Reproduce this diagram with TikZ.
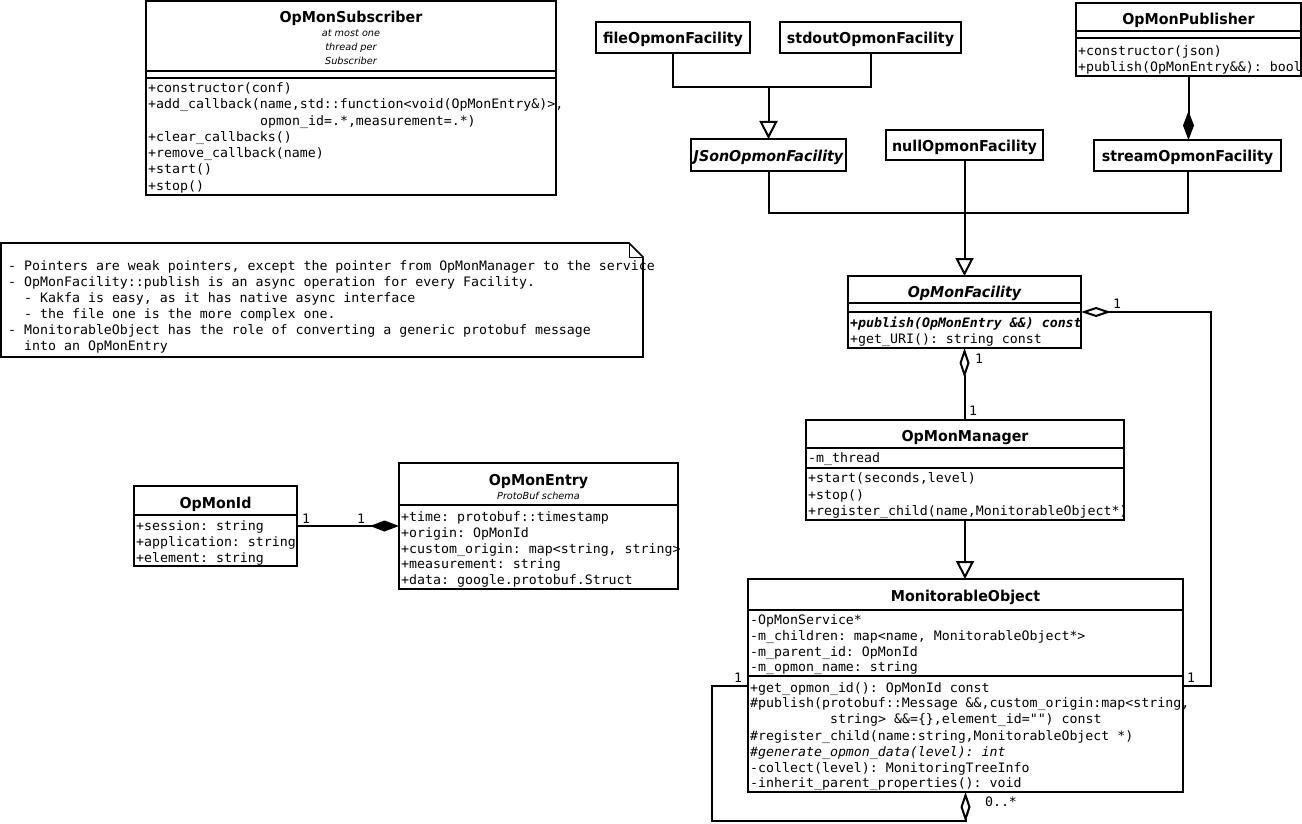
\documentclass[tikz,border=0pt]{standalone}
\usepackage{fontspec}
\setmonofont{DejaVu Sans Mono}[FakeStretch=1.02]
\newfontfamily\ttlfont{DejaVu Sans}[FakeStretch=0.95]
\newfontfamily\subfont{DejaVu Sans}
\usetikzlibrary{arrows.meta}
\tikzset{
 ln/.style={line width=2pt},
 box/.style={draw, line width=2pt, inner sep=0pt, outer sep=0pt, anchor=north west, fill=white},
 ttl/.style={font=\ttlfont\bfseries\fontsize{15}{18}\selectfont, inner sep=0pt, anchor=base},
 ttli/.style={font=\ttlfont\bfseries\itshape\fontsize{15}{18}\selectfont, inner sep=0pt, anchor=base},
 stl/.style={font=\subfont\itshape\fontsize{9.7}{11}\selectfont, inner sep=0pt, anchor=base},
 mem/.style={font=\ttfamily\fontsize{13}{16}\selectfont, anchor=base west, inner sep=0pt},
 lbl/.style={font=\ttfamily\fontsize{13}{16}\selectfont, inner sep=0pt},
 genarrow/.style={-{Triangle[length=18pt,width=18pt,fill=white]}},
 aggstart/.style={{Diamond[length=30pt,width=10pt,fill=white]}-},
 aggend/.style={-{Diamond[length=30pt,width=10pt,fill=white]}},
 compend/.style={-{Diamond[length=29pt,width=11pt,fill=black]}},
}
\begin{document}
\begin{tikzpicture}[x=1pt,y=-1pt]
\useasboundingbox[fill=white] (0,0) rectangle (1302,824);

% ---------- boxes ----------
\node[box, minimum width=410pt, minimum height=194pt] (sub) at (146,1) {};
\node[box, minimum width=225pt, minimum height=73pt] (pub) at (1076,3) {};
\node[box, minimum width=154pt, minimum height=31pt] (file) at (596,22) {};
\node[box, minimum width=181pt, minimum height=31pt] (stdout) at (780,22) {};
\node[box, minimum width=155pt, minimum height=32pt] (json) at (691,139) {};
\node[box, minimum width=157pt, minimum height=30pt] (null) at (886,130) {};
\node[box, minimum width=187pt, minimum height=31pt] (stream) at (1094,140) {};
\node[box, minimum width=233pt, minimum height=72pt] (fac) at (848,276) {};
\node[box, minimum width=318pt, minimum height=100pt] (mgr) at (806,420) {};
\node[box, minimum width=435pt, minimum height=213pt] (mo) at (748,579) {};
\node[box, minimum width=163pt, minimum height=80pt] (oid) at (134,486) {};
\node[box, minimum width=279pt, minimum height=126pt] (ent) at (399,463) {};
\node[anchor=north west, minimum width=642pt, minimum height=114pt, inner sep=0pt, outer sep=0pt] (note) at (1,243) {};

% note outline
\draw[line width=1.6pt] (note.north west) -- ([xshift=-14pt]note.north east) -- ([yshift=-14pt]note.north east) -- (note.south east) -- (note.south west) -- cycle;
\draw[line width=1pt] ([xshift=-14pt]note.north east) -- ([xshift=-14pt,yshift=-14pt]note.north east) -- ([yshift=-14pt]note.north east);

% ---------- compartment lines ----------
\draw[ln] (sub.west |- 0,71) -- (sub.east |- 0,71);
\draw[ln] (sub.west |- 0,78) -- (sub.east |- 0,78);
\draw[ln] (pub.west |- 0,31) -- (pub.east |- 0,31);
\draw[ln] (pub.west |- 0,38) -- (pub.east |- 0,38);
\draw[ln] (fac.west |- 0,303) -- (fac.east |- 0,303);
\draw[ln] (fac.west |- 0,312) -- (fac.east |- 0,312);
\draw[ln] (mgr.west |- 0,448) -- (mgr.east |- 0,448);
\draw[ln] (mgr.west |- 0,468) -- (mgr.east |- 0,468);
\draw[ln] (mo.west |- 0,610) -- (mo.east |- 0,610);
\draw[ln] (mo.west |- 0,676) -- (mo.east |- 0,676);
\draw[ln] (oid.west |- 0,515) -- (oid.east |- 0,515);
\draw[ln] (ent.west |- 0,505) -- (ent.east |- 0,505);

% ---------- connectors ----------
\coordinate (jbus) at (768.5,87);
\draw[ln] (file.south) |- (jbus) -| (stdout.south);
\draw[ln, genarrow] (jbus) -- (json.north);

\coordinate (fbus) at (964.5,213);
\draw[ln] (json.south) |- (fbus) -| (stream.south);
\draw[ln, genarrow] (null.south) -- (fac.north);

\draw[ln, compend] (pub.south) -- (pub.south |- stream.north);

\draw[ln, aggstart] (fac.south) -- (fac.south |- mgr.north);
\draw[ln, genarrow] (mgr.south) -- (mgr.south |- mo.north);

\coordinate (rt) at (1211,312);
\coordinate (rb) at (1211,686);
\draw[ln, aggstart] (fac.east |- rt) -- (rt) -- (rb) -- (mo.east |- rb);

\coordinate (lt) at (712,686);
\coordinate (lb) at (712,821);
\draw[ln, aggend] (mo.west |- lt) -- (lt) -- (lb) -| (mo.south);

\draw[ln, compend] (oid.east |- ent.west) -- (ent.west);

% ---------- multiplicities ----------
\node[lbl] (m1) at (306,519) {1};
\node[lbl] (m2) at (361,519) {1};
\node[lbl] (m3) at (1117,304) {1};
\node[lbl] (m4) at (979,359) {1};
\node[lbl] (m5) at (973,411) {1};
\node[lbl] (m6) at (1191,678) {1};
\node[lbl] (m7) at (738,678) {1};
\node[lbl] (m8) at (1001,802) {0..*};

% ---------- OpMonSubscriber ----------
\node[ttl] (subT) at (351,22.5) {OpMonSubscriber};
\node[stl] (subS1) at (351,36.5) {at most one};
\node[stl] (subS2) at (351,50.5) {thread per};
\node[stl] (subS3) at (351,64.5) {Subscriber};
\node[mem] (s1) at (148,93) {+constructor(conf)};
\node[mem] (s2) at (148,109) {+add\_callback(name,std::function<void(OpMonEntry\&)>,};
\node[mem] (s3) at (260,126) {opmon\_id=.*,measurement=.*)};
\node[mem] (s4) at (148,142) {+clear\_callbacks()};
\node[mem] (s5) at (148,158) {+remove\_callback(name)};
\node[mem] (s6) at (148,174) {+start()};
\node[mem] (s7) at (148,190) {+stop()};

% ---------- OpMonPublisher ----------
\node[ttl] (pubT) at (1188.5,24.5) {OpMonPublisher};
\node[mem] (p1) at (1078,56) {+constructor(json)};
\node[mem] (p2) at (1078,72) {+publish(OpMonEntry\&\&): bool};

% ---------- facilities ----------
\node[ttl] (fileT) at (673,43.5) {fileOpmonFacility};
\node[ttl] (stdoutT) at (870.5,43.5) {stdoutOpmonFacility};
\node[ttli] (jsonT) at (768.5,161.5) {JSonOpmonFacility};
\node[ttl] (nullT) at (964.5,151.5) {nullOpmonFacility};
\node[ttl] (streamT) at (1187.5,161.5) {streamOpmonFacility};

% ---------- OpMonFacility ----------
\node[ttli] (facT) at (964.5,297.5) {OpMonFacility};
\node[mem, font=\ttfamily\bfseries\itshape\fontsize{13}{16}\selectfont] (f1) at (850,327) {+publish(OpMonEntry \&\&) const};
\node[mem] (f2) at (850,343) {+get\_URI(): string const};

% ---------- OpMonManager ----------
\node[ttl] (mgrT) at (965,441.5) {OpMonManager};
\node[mem] (g1) at (808,462) {-m\_thread};
\node[mem] (g2) at (808,482) {+start(seconds,level)};
\node[mem] (g3) at (808,499) {+stop()};
\node[mem] (g4) at (808,515) {+register\_child(name,MonitorableObject*)};

% ---------- MonitorableObject ----------
\node[ttl] (moT) at (965.5,601) {MonitorableObject};
\node[mem] (o1) at (750,624) {-OpMonService*};
\node[mem] (o2) at (750,640) {-m\_children: map<name, MonitorableObject*>};
\node[mem] (o3) at (750,656) {-m\_parent\_id: OpMonId};
\node[mem] (o4) at (750,671) {-m\_opmon\_name: string};
\node[mem] (o5) at (750,692) {+get\_opmon\_id(): OpMonId const};
\node[mem] (o6) at (750,707) {\#publish(protobuf::Message \&\&,custom\_origin:map<string,};
\node[mem] (o7) at (830,723) {string> \&\&=\{\},element\_id="") const};
\node[mem] (o8) at (750,740) {\#register\_child(name:string,MonitorableObject *)};
\node[mem, font=\ttfamily\itshape\fontsize{13}{16}\selectfont] (o9) at (750,756) {\#generate\_opmon\_data(level): int};
\node[mem] (o10) at (750,772) {-collect(level): MonitoringTreeInfo};
\node[mem] (o11) at (750,787) {-inherit\_parent\_properties(): void};

% ---------- OpMonId ----------
\node[ttl] (oidT) at (215.5,508.5) {OpMonId};
\node[mem] (i1) at (136,530) {+session: string};
\node[mem] (i2) at (136,546) {+application: string};
\node[mem] (i3) at (136,562) {+element: string};

% ---------- OpMonEntry ----------
\node[ttl] (entT) at (538.5,485.5) {OpMonEntry};
\node[stl] (entS) at (538.5,499.5) {ProtoBuf schema};
\node[mem] (e1) at (401,521) {+time: protobuf::timestamp};
\node[mem] (e2) at (401,537) {+origin: OpMonId};
\node[mem] (e3) at (401,553) {+custom\_origin: map<string, string>};
\node[mem] (e4) at (401,568) {+measurement: string};
\node[mem] (e5) at (401,584) {+data: google.protobuf.Struct};

% ---------- note ----------
\node[mem] (n1) at (8,270) {- Pointers are weak pointers, except the pointer from OpMonManager to the service};
\node[mem] (n2) at (8,286) {- OpMonFacility::publish is an async operation for every Facility.};
\node[mem] (n3) at (24,302) {- Kakfa is easy, as it has native async interface};
\node[mem] (n4) at (24,318) {- the file one is the more complex one.};
\node[mem] (n5) at (8,334) {- MonitorableObject has the role of converting a generic protobuf message};
\node[mem] (n6) at (24,350) {into an OpMonEntry};
\end{tikzpicture}
\end{document}
